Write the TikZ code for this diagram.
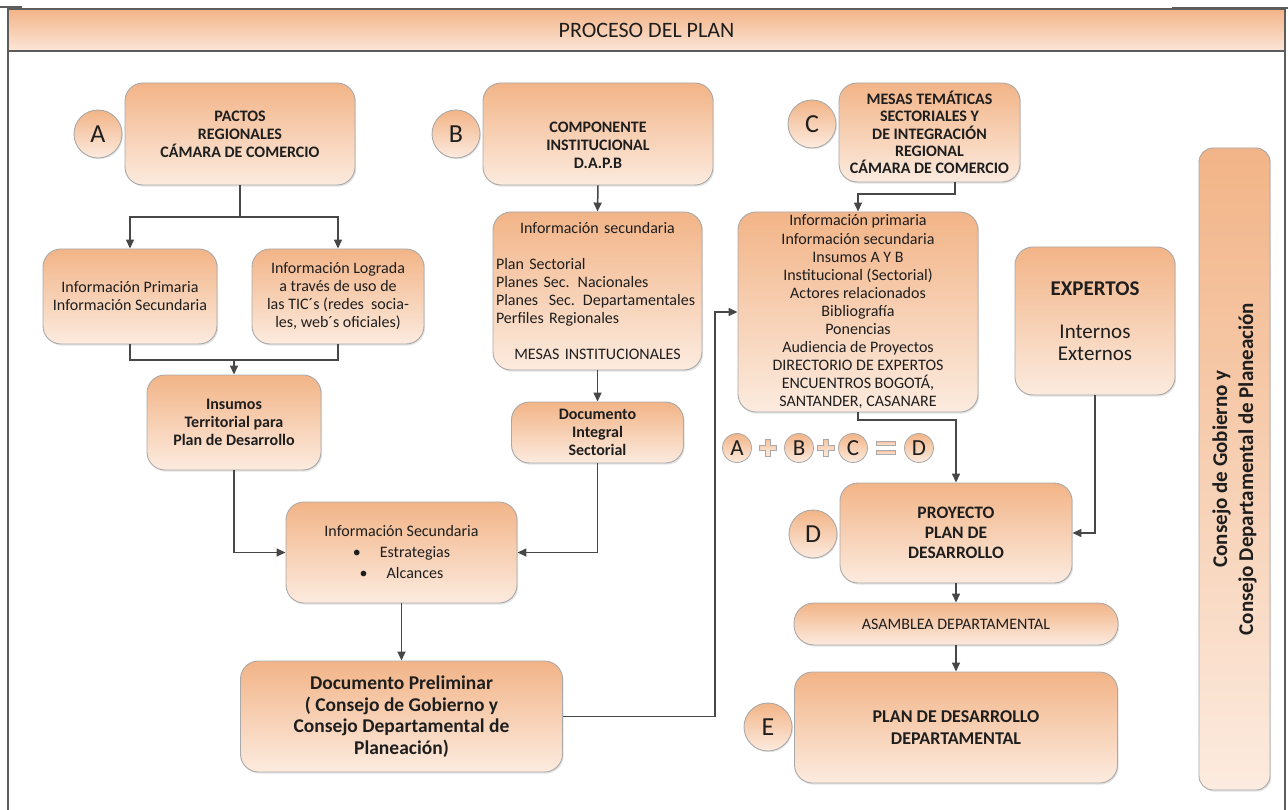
\documentclass[tikz,border=0pt]{standalone}
\usepackage{fontspec}
\setmainfont{Carlito}
\usetikzlibrary{arrows.meta,shadows}
\definecolor{otop}{HTML}{F2B487}
\definecolor{obot}{HTML}{FCEBDF}
\definecolor{htop}{HTML}{F2B387}
\definecolor{hbot}{HTML}{FCE6D8}
\definecolor{bord}{HTML}{A9A9A9}
\definecolor{lnc}{HTML}{474747}
\definecolor{txt}{HTML}{1E1E1E}
\definecolor{frm}{HTML}{5C5C5C}
\tikzset{
  fbox/.style={draw=bord, line width=0.9pt, rounded corners=18pt, top color=otop, bottom color=obot,
    align=center, text=txt, inner sep=3pt,
    drop shadow={shadow xshift=1.2pt, shadow yshift=-1.6pt, opacity=0.22}},
  wh/.style 2 args={minimum width=#1pt, minimum height=#2pt},
  ft/.style 2 args={font=\fontsize{#1}{#2}\selectfont},
  bft/.style 2 args={font=\fontsize{#1}{#2}\selectfont\bfseries},
  circ/.style={circle, draw=bord, line width=0.9pt, top color=otop, bottom color=obot, text=txt,
    inner sep=0pt, minimum size=48pt, font=\fontsize{26}{26}\selectfont,
    drop shadow={shadow xshift=1pt, shadow yshift=-1.2pt, opacity=0.2}},
  scirc/.style={circle, draw=bord, line width=0.8pt, top color=otop, bottom color=obot, text=txt,
    inner sep=0pt, minimum size=29pt, font=\fontsize{23}{23}\selectfont},
  arr/.style={draw=lnc, line width=1.5pt, -{Triangle[length=9pt,width=8pt]}},
  ln/.style={draw=lnc, line width=1.5pt},
  sym/.style={draw=bord, line width=0.8pt, top color=otop!80!white, bottom color=obot},
  frmline/.style={draw=frm, line width=1.5pt},
}
\newcommand\plusat[2]{\path[sym] (#1-2.5,#2-8.5) -- (#1+2.5,#2-8.5) -- (#1+2.5,#2-2.5) -- (#1+8.5,#2-2.5) -- (#1+8.5,#2+2.5) -- (#1+2.5,#2+2.5) -- (#1+2.5,#2+8.5) -- (#1-2.5,#2+8.5) -- (#1-2.5,#2+2.5) -- (#1-8.5,#2+2.5) -- (#1-8.5,#2-2.5) -- (#1-2.5,#2-2.5) -- cycle;}
\begin{document}
\begin{tikzpicture}[x=1pt,y=-1pt]
\useasboundingbox (0,0) rectangle (1288,810);
% header and frame
\node[top color=htop, bottom color=hbot, wh={1277}{42}, inner sep=0pt, ft={22}{24}, text=txt] (hdr) at (646.5,30) {PROCESO DEL PLAN};
\draw[frmline] (8,810) -- (8,9) -- (1285,9) -- (1285,810);
\draw[frmline] (8,51) -- (1285,51);
\draw[draw=frm, line width=1.2pt] (0,7) -- (22,7);
\draw[draw=frm, line width=1.2pt] (1172,8) -- (1288,8);

% column A
\node[fbox, wh={230}{102}, bft={16}{18}] (A) at (240,134) {PACTOS\\REGIONALES\\CÁMARA DE COMERCIO};
\node[circ] (ca) at (98,134) {A};
\node[fbox, wh={174}{95}, ft={16}{18}] (PrimA) at (130,296.5) {Información Primaria\\Información Secundaria};
\node[fbox, wh={172}{95}, ft={16}{18}] (Lograda) at (338,296.5) {Información Lograda\\a través de uso de\\las TIC´s (redes\ \ socia-\\les, web´s oficiales)};
\node[fbox, wh={174}{95}, bft={16}{18}] (Insumos) at (234,422.5) {Insumos\\Territorial para\\Plan de Desarrollo};

% column B
\node[fbox, wh={230}{102}] (B) at (598,134) {};
\node[bft={16}{18}, text=txt, align=center] (Btxt) at (598,145) {COMPONENTE\\INSTITUCIONAL\\D.A.P.B};
\node[circ] (cb) at (456,134) {B};
\node[fbox, wh={209}{158}, ft={16}{18.3}, text width=203pt, align=left] (InfoB) at (597.5,291)
  {\makebox[203pt]{Información secundaria}\\[17pt]Plan Sectorial\\Planes Sec. Nacionales\\Planes\ \ Sec. Departamentales\\Perfiles Regionales\\[17pt]\makebox[203pt]{MESAS INSTITUCIONALES}};
\node[fbox, wh={172}{61}, bft={16}{18}] (DocInt) at (597.5,432.5) {Documento\\Integral\\Sectorial};

% middle
\node[fbox, wh={231}{101}, ft={16}{21}] (InfoSec) at (401.5,552.5) {Información Secundaria\\\textbullet\hspace{19pt}Estrategias\\\textbullet\hspace{19pt}Alcances};
\node[fbox, wh={322}{111}, bft={19.5}{21.7}] (DocPre) at (401.5,716.5) {Documento Preliminar\\( Consejo de Gobierno y\\Consejo Departamental de\\Planeación)};

% column C
\node[fbox, wh={181}{99}, bft={16}{17.3}] (C) at (929.5,132.5) {MESAS TEMÁTICAS\\SECTORIALES Y\\DE INTEGRACIÓN\\REGIONAL\\CÁMARA DE COMERCIO};
\node[circ] (cc) at (812,124) {C};
\node[fbox, wh={240}{200}, ft={16}{18.1}] (InfoC) at (858,312) {Información primaria\\Información secundaria\\Insumos A Y B\\Institucional (Sectorial)\\Actores relacionados\\Bibliografía\\Ponencias\\Audiencia de Proyectos\\DIRECTORIO DE EXPERTOS\\ENCUENTROS BOGOTÁ,\\SANTANDER, CASANARE};
\node[fbox, wh={160}{148}, ft={21}{21.7}] (Expertos) at (1095,321) {\textbf{EXPERTOS}\\[22pt]Internos\\Externos};

% formula
\node[scirc] (fa) at (737,448) {A};
\plusat{768}{448}
\node[scirc] (fb) at (799,448) {B};
\plusat{826}{448}
\node[scirc] (fc) at (853,448) {C};
\path[sym] (876,441.5) rectangle (895,445.5);
\path[sym] (876,450.5) rectangle (895,454.5);
\node[scirc] (fd) at (919,448) {D};

% column D/E
\node[fbox, wh={232}{100}, bft={17.5}{20}] (Proyecto) at (956,533) {PROYECTO\\PLAN DE\\DESARROLLO};
\node[circ] (cd) at (813,534) {D};
\node[fbox, wh={324}{42}, rounded corners=20pt, ft={16}{18}] (Asamblea) at (956,624) {ASAMBLEA DEPARTAMENTAL};
\node[fbox, wh={323}{111}, bft={18}{21.7}] (PlanDD) at (956,727.5) {PLAN DE DESARROLLO\\DEPARTAMENTAL};
\node[circ] (ce) at (768,727) {E};

% right column
\node[fbox, rotate=90, wh={642}{71}, rounded corners=14pt, bft={21}{26}, drop shadow={opacity=0}] (cg) at (1234.5,469) {Consejo de Gobierno y\\Consejo Departamental de Planeación};

% connectors
\coordinate (aj) at (240,217);
\draw[ln] (A.south) -- (aj);
\draw[arr] (aj) -| (PrimA.north);
\draw[arr] (aj) -| (Lograda.north);
\coordinate (mj) at (234,360);
\draw[ln] (PrimA.south) |- (mj);
\draw[ln] (Lograda.south) |- (mj);
\draw[arr] (mj) -- (Insumos.north);
\draw[arr] (Insumos.south) |- (InfoSec.west);
\draw[arr] (B.south) -- (InfoB.north);
\draw[arr] (InfoB.south) -- (DocInt.north);
\draw[arr] (DocInt.south) |- (InfoSec.east);
\draw[arr] (InfoSec.south) -- (DocPre.north);
\coordinate (dj) at (715,312);
\draw[arr] (DocPre.east) -| (dj) -- (InfoC.west);
\coordinate (cj) at (955,194);
\draw[arr] (C.south -| cj) -- (cj) -| (InfoC.north);
\coordinate (ij) at (858,420);
\draw[arr] (InfoC.south) -- (ij) -| (Proyecto.north);
\draw[arr] (Expertos.south) |- (Proyecto.east);
\draw[arr] (Proyecto.south) -- (Asamblea.north);
\draw[arr] (Asamblea.south) -- (PlanDD.north);
\end{tikzpicture}
\end{document}
